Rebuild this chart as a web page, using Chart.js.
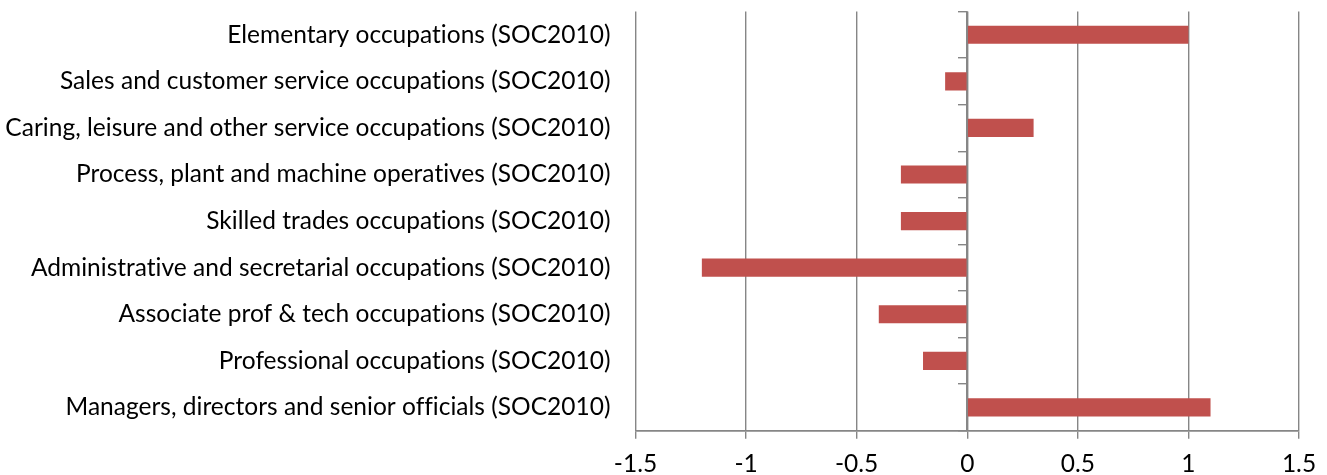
<!DOCTYPE html>
<html>
<head>
<meta charset="utf-8">
<script src="https://cdn.jsdelivr.net/npm/chart.js@4/dist/chart.umd.min.js"></script>
<style>
  html, body { margin: 0; padding: 0; background: #fff; }
  #wrap { width: 1327px; height: 475px; position: relative; }
</style>
</head>
<body>
<div id="wrap"><canvas id="c" width="1327" height="475"></canvas></div>
<script>
const categories = [
  "Elementary occupations (SOC2010)",
  "Sales and customer service occupations (SOC2010)",
  "Caring, leisure and other service occupations (SOC2010)",
  "Process, plant and machine operatives (SOC2010)",
  "Skilled trades occupations (SOC2010)",
  "Administrative and secretarial occupations (SOC2010)",
  "Associate prof & tech occupations (SOC2010)",
  "Professional occupations (SOC2010)",
  "Managers, directors and senior officials (SOC2010)"
];
const values = [1.0, -0.1, 0.3, -0.3, -0.3, -1.2, -0.4, -0.2, 1.1];
const xTicks = [-1.5, -1, -0.5, 0, 0.5, 1, 1.5];

const GRAY = '#868686';
const FONT = { family: 'Lato', size: 24.5 };

const noLigatures = {
  id: 'noLigatures',
  beforeLayout(chart) { chart.ctx.letterSpacing = '0.01px'; },
  beforeDraw(chart) { chart.ctx.letterSpacing = '0.01px'; }
};

new Chart(document.getElementById('c'), {
  type: 'bar',
  plugins: [noLigatures],
  data: {
    labels: categories,
    datasets: [{
      data: values,
      backgroundColor: '#C0504D',
      borderWidth: 0,
      barPercentage: 0.39,
      categoryPercentage: 1.0,
      yAxisID: 'y'
    }]
  },
  options: {
    indexAxis: 'y',
    responsive: false,
    animation: false,
    devicePixelRatio: 1,
    layout: { padding: { top: 11.5, right: 28, bottom: 0, left: 0 } },
    plugins: { legend: { display: false }, tooltip: { enabled: false } },
    scales: {
      x: {
        type: 'linear',
        min: -1.5, max: 1.5,
        afterBuildTicks: (s) => { s.ticks = xTicks.map(v => ({ value: v })); },
        afterFit: (s) => { s.height = 44.3; s.paddingLeft = 0; s.paddingRight = 0; },
        grid: { color: GRAY, lineWidth: 1.4, tickLength: 8, drawTicks: true },
        border: { display: true, color: GRAY, width: 1.8 },
        ticks: { font: FONT, color: '#000', padding: 11, maxRotation: 0,
                 callback: (v) => String(v) }
      },
      y: {
        type: 'category',
        position: 'left',
        afterFit: (s) => { s.width = 635.5; s.paddingTop = 0; s.paddingBottom = 0; },
        grid: { display: false, drawTicks: false },
        border: { display: false },
        ticks: { font: FONT, color: '#000', padding: 25 }
      },
      y2: {
        type: 'category',
        labels: categories,
        position: { x: 0 },
        offset: true,
        afterFit: (s) => { s.paddingTop = 0; s.paddingBottom = 0; },
        grid: { offset: true, drawOnChartArea: false, drawTicks: true, tickLength: 8, color: GRAY, lineWidth: 1.4 },
        border: { display: true, color: GRAY, width: 1.6 },
        ticks: { display: false }
      }
    }
  }
});
</script>
</body>
</html>
